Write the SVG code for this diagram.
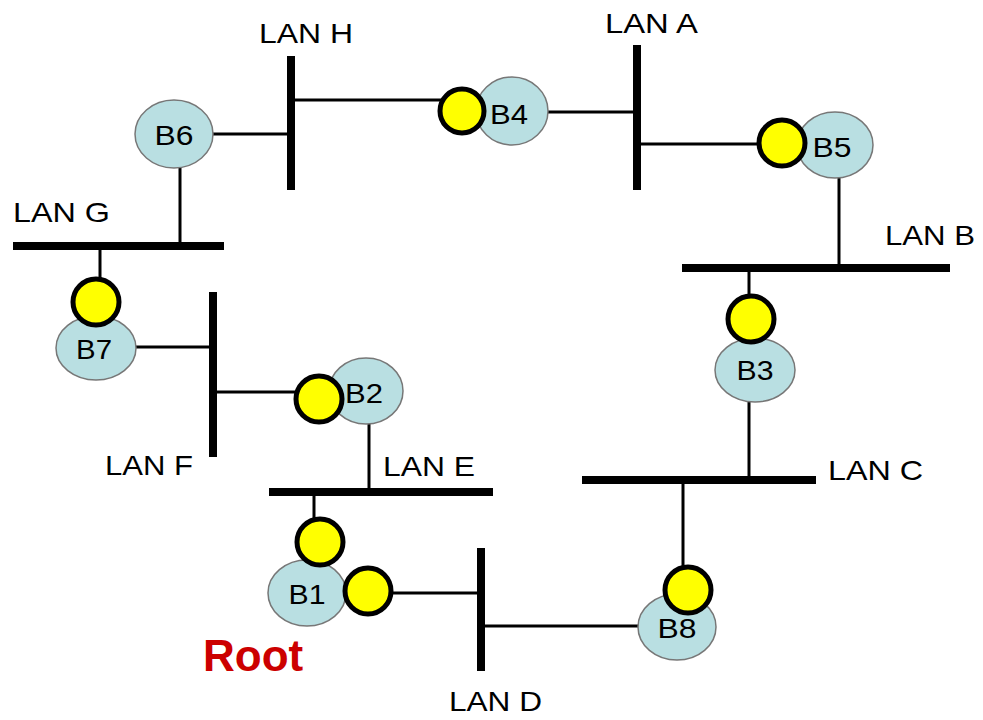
<svg xmlns="http://www.w3.org/2000/svg" width="983" height="720" viewBox="0 0 983 720">
<style>
.bg{fill:#ffffff}
.wire{stroke:#000;stroke-width:3;fill:none}
.bus{stroke:#000;stroke-width:8;fill:none}
.br{fill:#B9DFE2;stroke:#777;stroke-width:1.5}
.port{fill:#FFFF00;stroke:#000;stroke-width:5}
.lbl{font-family:"Liberation Sans",Arial,sans-serif;font-size:28px;fill:#000}
.bl{font-family:"Liberation Sans",Arial,sans-serif;font-size:27px;fill:#000;text-anchor:middle}
.root{font-family:"Liberation Sans",Arial,sans-serif;font-size:44px;font-weight:bold;fill:#CC0000}
</style>
<rect class="bg" x="0" y="0" width="983" height="720"/>
<g id="connectors">
<line class="wire" x1="291" y1="100" x2="445" y2="100"/>
<line class="wire" x1="213" y1="134" x2="291" y2="134"/>
<line class="wire" x1="548" y1="112" x2="637" y2="112"/>
<line class="wire" x1="637" y1="144" x2="765" y2="144"/>
<line class="wire" x1="839" y1="178" x2="839" y2="268"/>
<line class="wire" x1="749" y1="268" x2="749" y2="300"/>
<line class="wire" x1="749" y1="400" x2="749" y2="480"/>
<line class="wire" x1="683" y1="480" x2="683" y2="570"/>
<line class="wire" x1="483" y1="626" x2="640" y2="626"/>
<line class="wire" x1="390" y1="593" x2="481" y2="593"/>
<line class="wire" x1="314" y1="492" x2="314" y2="520"/>
<line class="wire" x1="369" y1="424" x2="369" y2="492"/>
<line class="wire" x1="213" y1="392" x2="300" y2="392"/>
<line class="wire" x1="135" y1="347" x2="213" y2="347"/>
<line class="wire" x1="100" y1="246" x2="100" y2="280"/>
<line class="wire" x1="180" y1="167" x2="180" y2="246"/>
</g>
<g id="lan-h"><line class="bus" x1="291" y1="56" x2="291" y2="190"/><text class="lbl" x="259" y="43" textLength="94" lengthAdjust="spacingAndGlyphs">LAN H</text></g>
<g id="lan-a"><line class="bus" x1="637" y1="45" x2="637" y2="190"/><text class="lbl" x="605" y="33" textLength="93" lengthAdjust="spacingAndGlyphs">LAN A</text></g>
<g id="lan-b"><line class="bus" x1="682" y1="268" x2="950" y2="268"/><text class="lbl" x="885" y="245" textLength="90" lengthAdjust="spacingAndGlyphs">LAN B</text></g>
<g id="lan-c"><line class="bus" x1="582" y1="480" x2="816" y2="480"/><text class="lbl" x="828" y="480" textLength="95" lengthAdjust="spacingAndGlyphs">LAN C</text></g>
<g id="lan-d"><line class="bus" x1="481" y1="548" x2="481" y2="671"/><text class="lbl" x="449" y="711" textLength="93" lengthAdjust="spacingAndGlyphs">LAN D</text></g>
<g id="lan-e"><line class="bus" x1="269" y1="492" x2="493" y2="492"/><text class="lbl" x="383" y="476" textLength="92" lengthAdjust="spacingAndGlyphs">LAN E</text></g>
<g id="lan-f"><line class="bus" x1="213" y1="292" x2="213" y2="457"/><text class="lbl" x="105" y="475" textLength="88" lengthAdjust="spacingAndGlyphs">LAN F</text></g>
<g id="lan-g"><line class="bus" x1="13" y1="246" x2="224" y2="246"/><text class="lbl" x="13" y="222" textLength="97" lengthAdjust="spacingAndGlyphs">LAN G</text></g>
<g id="b6"><ellipse class="br" cx="174" cy="134" rx="39" ry="34"/><text class="bl" x="174" y="145" textLength="39" lengthAdjust="spacingAndGlyphs">B6</text></g>
<g id="b4"><ellipse class="br" cx="512" cy="111" rx="36" ry="34"/><text class="bl" x="509" y="124" textLength="38" lengthAdjust="spacingAndGlyphs">B4</text><circle class="port" cx="462" cy="111" r="22"/></g>
<g id="b5"><ellipse class="br" cx="835" cy="145" rx="38" ry="33"/><text class="bl" x="832" y="157" textLength="39" lengthAdjust="spacingAndGlyphs">B5</text><circle class="port" cx="782" cy="143" r="23"/></g>
<g id="b3"><ellipse class="br" cx="755" cy="370" rx="40" ry="32"/><text class="bl" x="755" y="380" textLength="37" lengthAdjust="spacingAndGlyphs">B3</text><circle class="port" cx="751" cy="319" r="23"/></g>
<g id="b8"><ellipse class="br" cx="677" cy="627" rx="39" ry="33"/><text class="bl" x="677" y="638" textLength="39" lengthAdjust="spacingAndGlyphs">B8</text><circle class="port" cx="688" cy="590" r="23"/></g>
<g id="b1"><ellipse class="br" cx="307" cy="593" rx="39" ry="33"/><text class="bl" x="307" y="604" textLength="37" lengthAdjust="spacingAndGlyphs">B1</text><circle class="port" cx="320" cy="542" r="23"/><circle class="port" cx="368" cy="591" r="23"/></g>
<g id="b2"><ellipse class="br" cx="366" cy="391" rx="37" ry="33"/><text class="bl" x="364" y="403" textLength="38" lengthAdjust="spacingAndGlyphs">B2</text><circle class="port" cx="319" cy="399" r="23"/></g>
<g id="b7"><ellipse class="br" cx="96" cy="348" rx="40" ry="32"/><text class="bl" x="94" y="359" textLength="36" lengthAdjust="spacingAndGlyphs">B7</text><circle class="port" cx="96" cy="302" r="23"/></g>
<g id="root-label"><text class="root" x="203" y="671">Root</text></g>
</svg>
